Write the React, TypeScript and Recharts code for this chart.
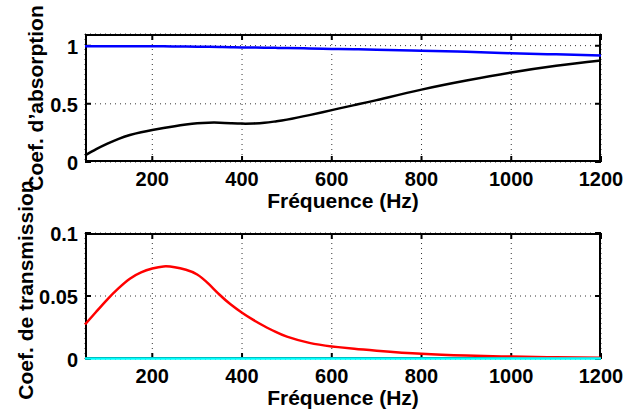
import React from 'react';
import { LineChart, Line, XAxis, YAxis, CartesianGrid, Label, ReferenceArea, ReferenceLine } from 'recharts';

const freq = [50, 75, 100, 125, 150, 175, 200, 225, 250, 275, 300, 325, 350, 375, 400, 425, 450, 475, 500, 550, 600, 650, 700, 800, 900, 1000, 1100, 1200];
const absorptionBlue = [0.995, 0.995, 0.995, 0.995, 0.995, 0.994, 0.994, 0.994, 0.993, 0.992, 0.991, 0.99, 0.989, 0.987, 0.985, 0.984, 0.982, 0.981, 0.979, 0.976, 0.972, 0.969, 0.965, 0.957, 0.947, 0.935, 0.925, 0.915];
const absorptionBlack = [0.056, 0.11, 0.157, 0.199, 0.232, 0.256, 0.275, 0.292, 0.308, 0.322, 0.333, 0.338, 0.338, 0.334, 0.33, 0.331, 0.337, 0.349, 0.364, 0.403, 0.446, 0.489, 0.532, 0.622, 0.7, 0.769, 0.827, 0.873];
const transRed = [0.0274, 0.0375, 0.0474, 0.0562, 0.0637, 0.0687, 0.0718, 0.0735, 0.0729, 0.0708, 0.0671, 0.0598, 0.051, 0.0432, 0.0367, 0.031, 0.026, 0.0215, 0.0178, 0.0128, 0.01, 0.0081, 0.0066, 0.0041, 0.0027, 0.0019, 0.0014, 0.001];
const transCyan = [0.0003, 0.0003, 0.0003, 0.0003, 0.0003, 0.0003, 0.0003, 0.0003, 0.0003, 0.0003, 0.0003, 0.0003, 0.0003, 0.0003, 0.0003, 0.0003, 0.0003, 0.0003, 0.0003, 0.0003, 0.0003, 0.0003, 0.0003, 0.0003, 0.0003, 0.0003, 0.0003, 0.0003];

const xDomain: [number, number] = [50, 1200];
const xTicks = [200, 400, 600, 800, 1000, 1200];
const absDomain: [number, number] = [0, 1.1];
const absTicks = [0, 0.5, 1];
const transDomain: [number, number] = [0, 0.1];
const transTicks = [0, 0.05, 0.1];

const xLabel = 'Fréquence (Hz)';
const absLabel = 'Coef. d’absorption';
const transLabel = 'Coef. de transmission';

const absData = freq.map((f, i) => ({ f, blue: absorptionBlue[i], black: absorptionBlack[i] }));
const transData = freq.map((f, i) => ({ f, red: transRed[i], cyan: transCyan[i] }));

const FAMILY = "'Liberation Sans', Arial, Helvetica, sans-serif";
const TICK_FONT: React.CSSProperties = { fontFamily: FAMILY, fontWeight: 'bold', fontSize: 20, fill: '#000' };
const LABEL_FONT: React.CSSProperties = { fontFamily: FAMILY, fontWeight: 'bold', fontSize: 21, fill: '#000' };

const BottomTick = (p: any) => (
  <text x={p.x} y={p.y + 24} textAnchor="middle" style={TICK_FONT}>{String(p.payload.value)}</text>
);
const LeftTick = (p: any) => (
  <text x={p.x - 7} y={p.y + 8} textAnchor="end" style={TICK_FONT}>{String(p.payload.value)}</text>
);

// inward tick marks at both ends of a reference line spanning the plot
const TICK_LEN = 6;
const VTickShape = (p: any) => {
  const x = p.x1;
  const yTop = Math.min(p.y1, p.y2);
  const yBot = Math.max(p.y1, p.y2);
  return (
    <path
      d={`M${x},${yTop}L${x},${yTop + TICK_LEN}M${x},${yBot}L${x},${yBot - TICK_LEN}`}
      stroke="#000"
      strokeWidth={2}
      fill="none"
    />
  );
};
const HTickShape = (p: any) => {
  const y = p.y1;
  const xL = Math.min(p.x1, p.x2);
  const xR = Math.max(p.x1, p.x2);
  return (
    <path
      d={`M${xL},${y}L${xL + TICK_LEN},${y}M${xR},${y}L${xR - TICK_LEN},${y}`}
      stroke="#000"
      strokeWidth={2}
      fill="none"
    />
  );
};
const FrameShape = (p: any) => (
  <rect x={p.x + 1} y={p.y + 1} width={p.width - 2} height={p.height - 2} fill="none" stroke="#000" strokeWidth={2} />
);

type PanelProps = {
  data: any[];
  marginTop: number;
  marginBottom: number;
  yDomain: [number, number];
  yTicks: number[];
  yLabel: string;
  yLabelDx: number;
  yLabelDy: number;
  series: { key: string; color: string }[];
};

function Panel({ data, marginTop, marginBottom, yDomain, yTicks, yLabel, yLabelDx, yLabelDy, series }: PanelProps) {
  return (
    <div style={{ position: 'absolute', left: 0, top: 0 }}>
      <LineChart width={638} height={410} data={data} margin={{ top: marginTop, right: 37, bottom: marginBottom, left: 25 }}>
        <CartesianGrid stroke="#333" strokeDasharray="1 4" strokeWidth={1} fill="none" />
        <XAxis
          dataKey="f"
          type="number"
          domain={xDomain}
          ticks={xTicks}
          height={30}
          tickSize={0}
          tickMargin={0}
          tickLine={false}
          axisLine={false}
          tick={BottomTick}
          label={
            <Label
              content={(lp: any) => {
                const vb = lp.viewBox;
                return (
                  <text x={vb.x + vb.width / 2} y={vb.y + 46} textAnchor="middle" style={LABEL_FONT}>
                    {xLabel}
                  </text>
                );
              }}
            />
          }
        />
        <YAxis
          type="number"
          domain={yDomain}
          ticks={yTicks}
          width={60}
          tickSize={0}
          tickMargin={0}
          tickLine={false}
          axisLine={false}
          tick={LeftTick}
          label={
            <Label
              content={(lp: any) => {
                const vb = lp.viewBox;
                const x = vb.x + yLabelDx;
                const y = vb.y + vb.height / 2 + yLabelDy;
                return (
                  <text x={x} y={y} textAnchor="middle" transform={`rotate(-90, ${x}, ${y})`} style={LABEL_FONT}>
                    {yLabel}
                  </text>
                );
              }}
            />
          }
        />
        <ReferenceArea
          x1={xDomain[0]}
          x2={xDomain[1]}
          y1={yDomain[0]}
          y2={yDomain[1]}
          ifOverflow="visible"
          shape={FrameShape}
        />
        {xTicks.map((t) => (
          <ReferenceLine key={`vx${t}`} x={t} ifOverflow="visible" shape={VTickShape} />
        ))}
        {yTicks.map((t) => (
          <ReferenceLine key={`hy${t}`} y={t} ifOverflow="visible" shape={HTickShape} />
        ))}
        {series.map((s) => (
          <Line
            key={s.key}
            dataKey={s.key}
            type="natural"
            stroke={s.color}
            strokeWidth={2.5}
            dot={false}
            activeDot={false}
            isAnimationActive={false}
          />
        ))}
      </LineChart>
    </div>
  );
}

export default function App() {
  return (
    <div style={{ position: 'absolute', left: 0, top: 0, width: 638, height: 410, background: '#fff' }}>
      <Panel
        data={absData}
        marginTop={34}
        marginBottom={218}
        yDomain={absDomain}
        yTicks={absTicks}
        yLabel={absLabel}
        yLabelDx={18}
        yLabelDy={0}
        series={[
          { key: 'blue', color: '#0000ff' },
          { key: 'black', color: '#000000' },
        ]}
      />
      <Panel
        data={transData}
        marginTop={233}
        marginBottom={21}
        yDomain={transDomain}
        yTicks={transTicks}
        yLabel={transLabel}
        yLabelDx={8}
        yLabelDy={-6}
        series={[
          { key: 'red', color: '#ff0000' },
          { key: 'cyan', color: '#00ffff' },
        ]}
      />
    </div>
  );
}
